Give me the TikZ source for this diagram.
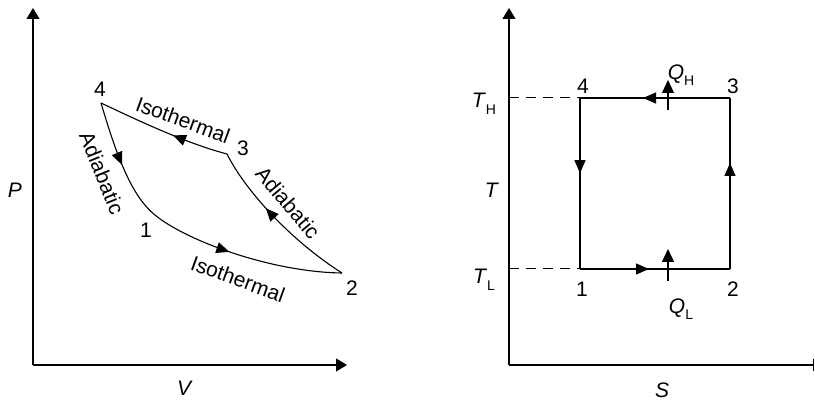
\documentclass[tikz,border=0pt]{standalone}
\usepackage{fontspec}
\setmainfont{Liberation Sans}
\usetikzlibrary{arrows.meta,decorations.markings}
\tikzset{
  axis/.style={line width=0.6pt, -{Triangle[length=5.5pt,width=6.5pt]}},
  cyc/.style={line width=0.55pt},
  midarrow/.style={postaction={decorate},
    decoration={markings, mark=at position #1 with
      {\arrow{Triangle[length=6.5pt,width=5.5pt]}}}},
  lbl/.style={inner sep=0pt},
  qarrow/.style={line width=0.55pt, -{Triangle[length=6.5pt,width=6pt]}},
  guide/.style={line width=0.5pt, dash pattern=on 5pt off 3.5pt},
}
\newcommand{\sub}[2]{\textit{#1}\raisebox{-0.6ex}{\scriptsize #2}}

\begin{document}
\begin{tikzpicture}[x=0.5pt, y=-0.5pt, font=\fontsize{10.5}{12}\selectfont]
\useasboundingbox (0,0) rectangle (815,401);

% P-V diagram
\coordinate (o1) at (33,365);
\coordinate (ptop) at (33,8);
\coordinate (vend) at (347,365);
\draw[axis] (o1) -- (ptop);
\draw[axis] (o1) -- (vend);
\node[lbl] (plab) at (15,190) {\textit{P}};
\node[lbl] (vlab) at (185,388) {\textit{V}};

\coordinate (p1) at (155,215);
\coordinate (p2) at (342,273);
\coordinate (p3) at (227,154);
\coordinate (p4) at (101,103);

\draw[cyc, midarrow=0.52] (p4) .. controls (115,150) and (130,195) .. (p1);
\draw[cyc, midarrow=0.42] (p1) .. controls (185,240) and (270,272) .. (p2);
\draw[cyc, midarrow=0.6] (p2) .. controls (290,240) and (245,190) .. (p3);
\draw[cyc, midarrow=0.42] (p3) .. controls (185,143) and (135,119) .. (p4);

\node[lbl] (n1) at (146,230) {1};
\node[lbl] (n2) at (352,288) {2};
\node[lbl] (n3) at (243,148) {3};
\node[lbl] (n4) at (100,89) {4};

\node[lbl, rotate=-20] (isotop) at (183,120) {Isothermal};
\node[lbl, rotate=-20] (isobot) at (238,279) {Isothermal};
\node[lbl, rotate=-68] (adleft) at (102,173) {Adiabatic};
\node[lbl, rotate=-50] (adright) at (288,203) {Adiabatic};

% T-S diagram
\coordinate (o2) at (509,365);
\coordinate (ttop) at (509,8);
\coordinate (send) at (814,365);
\draw[axis] (o2) -- (ttop);
\draw[line width=0.6pt, -{Bar[width=6pt]}] (o2) -- (send);
\node[lbl] (tlab) at (492,190) {\textit{T}};
\node[lbl] (slab) at (662,390) {\textit{S}};

\coordinate (r1) at (580,269);
\coordinate (r2) at (730,269);
\coordinate (r3) at (730,98);
\coordinate (r4) at (580,98);
\coordinate (th) at (509,98);
\coordinate (tl) at (509,269);

\draw[guide] (th) -- (r4);
\draw[guide] (tl) -- (r1);

\draw[cyc, midarrow=0.46] (r1) -- (r2);
\draw[cyc, midarrow=0.62] (r2) -- (r3);
\draw[cyc, midarrow=0.58] (r3) -- (r4);
\draw[cyc, midarrow=0.44] (r4) -- (r1);

\coordinate (qh0) at (668,110);
\coordinate (qh1) at (668,80);
\coordinate (ql0) at (668,281);
\coordinate (ql1) at (668,249);
\draw[qarrow] (qh0) -- (qh1);
\draw[qarrow] (ql0) -- (ql1);

\node[lbl] (m1) at (582,289) {1};
\node[lbl] (m2) at (733,289) {2};
\node[lbl] (m3) at (733,86) {3};
\node[lbl] (m4) at (583,86) {4};

\node[lbl] (thlab) at (484,104) {\sub{T}{H}};
\node[lbl] (tllab) at (484,280) {\sub{T}{L}};
\node[lbl] (qhlab) at (681,75) {\sub{Q}{H}};
\node[lbl] (qllab) at (681,309) {\sub{Q}{L}};

\end{tikzpicture}
\end{document}
